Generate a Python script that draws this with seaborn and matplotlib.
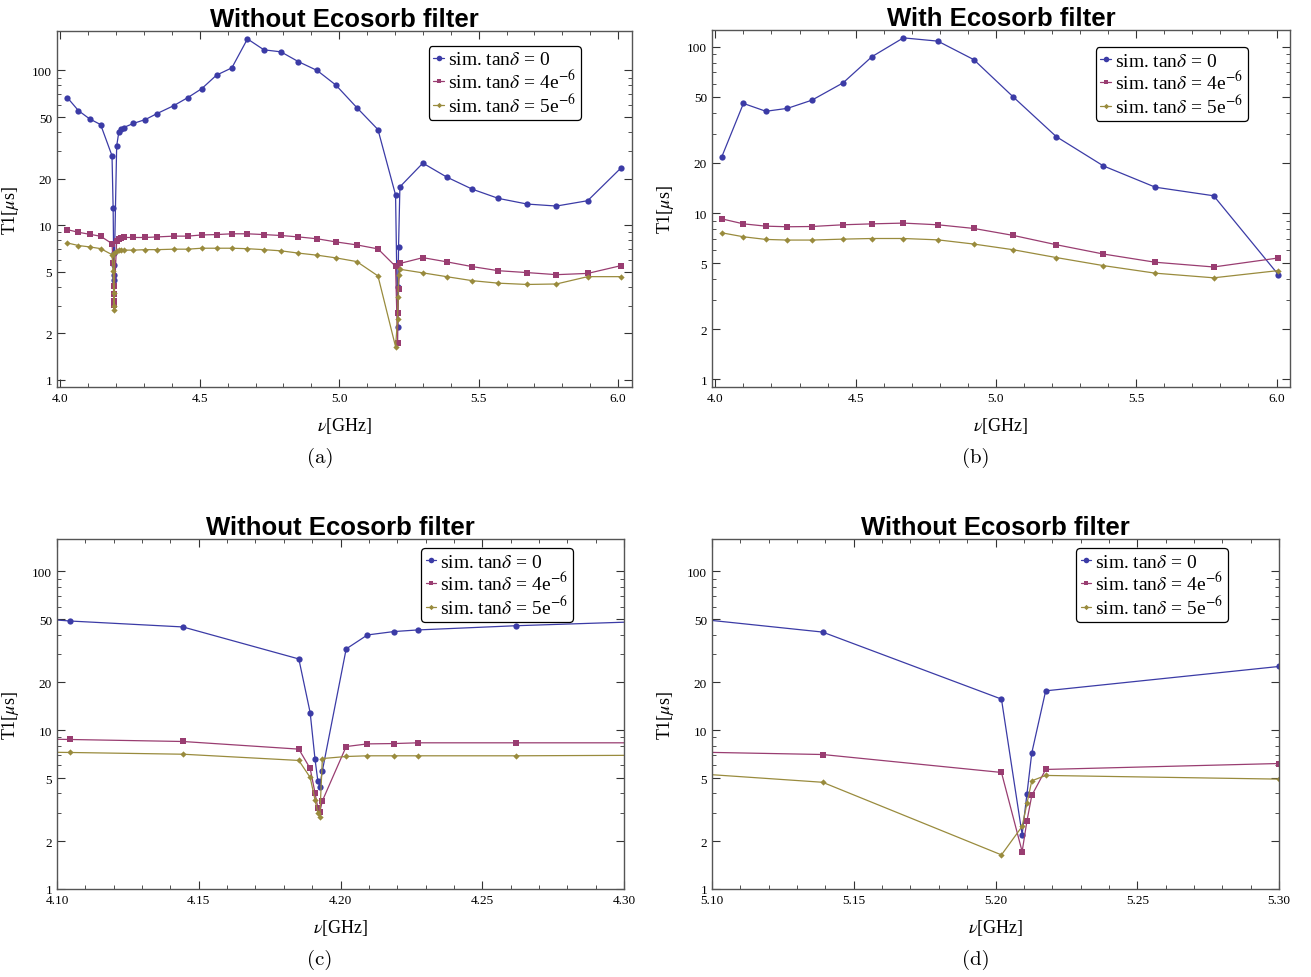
import numpy as np
import pandas as pd
import matplotlib
matplotlib.use('Agg')
import matplotlib.pyplot as plt
import seaborn as sns
from matplotlib.lines import Line2D
from matplotlib.ticker import (FixedLocator, FixedFormatter, LogLocator,
                               NullFormatter, MultipleLocator, FormatStrFormatter)

# Without Ecosorb filter (panels a, c, d share these points)
freq_no = [4.025, 4.065, 4.1047, 4.1444, 4.1853, 4.1893, 4.191, 4.192, 4.1927, 4.1936,
           4.202, 4.2095, 4.2188, 4.2273, 4.262, 4.305, 4.347, 4.407, 4.457, 4.507,
           4.560, 4.615, 4.671, 4.730, 4.791, 4.854, 4.921, 4.988, 5.063, 5.139,
           5.2021, 5.2094, 5.2111, 5.2128, 5.2177, 5.300, 5.385, 5.477, 5.571, 5.674,
           5.779, 5.891, 6.009]
t1_no_0 = [66.8, 55.0, 48.7, 44.7, 28.1, 12.9, 6.6, 4.8, 4.42, 5.55,
           32.5, 39.8, 41.8, 42.8, 45.5, 48.2, 52.7, 59.3, 66.8, 76.3,
           93.3, 104.0, 160.0, 136.0, 132.0, 114.0, 100.0, 80.5, 57.6, 41.5,
           15.7, 2.2, 3.98, 7.2, 17.7, 25.2, 20.5, 17.1, 14.9, 13.7,
           13.3, 14.4, 23.3]
t1_no_4 = [9.36, 9.0, 8.74, 8.49, 7.6, 5.74, 4.04, 3.25, 3.06, 3.59,
           7.89, 8.2, 8.24, 8.33, 8.33, 8.33, 8.4, 8.5, 8.5, 8.65,
           8.7, 8.8, 8.8, 8.7, 8.58, 8.4, 8.17, 7.8, 7.46, 7.03,
           5.42, 1.72, 2.69, 3.88, 5.66, 6.17, 5.8, 5.4, 5.08, 4.94,
           4.79, 4.88, 5.47]
t1_no_5 = [7.68, 7.39, 7.24, 7.06, 6.45, 5.04, 3.65, 3.02, 2.85, 6.63,
           6.83, 6.9, 6.9, 6.9, 6.9, 6.95, 6.95, 7.0, 7.0, 7.1,
           7.1, 7.1, 7.05, 6.95, 6.83, 6.6, 6.4, 6.15, 5.82, 4.7,
           1.64, 2.48, 3.46, 4.8, 5.19, 4.92, 4.65, 4.38, 4.22, 4.14,
           4.17, 4.65, 4.65]

# With Ecosorb filter (panel b)
freq_eco = [4.022, 4.100, 4.180, 4.257, 4.344, 4.455, 4.558, 4.670, 4.793, 4.921,
            5.061, 5.215, 5.383, 5.568, 5.776, 6.007]
t1_eco_0 = [21.6, 45.6, 40.9, 42.6, 47.7, 60.6, 87.1, 113.0, 108.0, 83.6,
            50.0, 28.8, 19.2, 14.3, 12.7, 4.25]
t1_eco_4 = [9.23, 8.61, 8.34, 8.27, 8.3, 8.5, 8.61, 8.7, 8.5, 8.08,
            7.34, 6.45, 5.67, 5.06, 4.74, 5.37]
t1_eco_5 = [7.61, 7.2, 6.94, 6.88, 6.88, 6.97, 7.03, 7.03, 6.9, 6.51,
            6.02, 5.4, 4.83, 4.35, 4.08, 4.51]

series_labels = [r'sim. tan$\delta$ = 0', r'sim. tan$\delta$ = 4e$^{-6}$',
                 r'sim. tan$\delta$ = 5e$^{-6}$']
panel_titles = ['Without Ecosorb filter', 'With Ecosorb filter',
                'Without Ecosorb filter', 'Without Ecosorb filter']
panel_tags = ['(a)', '(b)', '(c)', '(d)']
y_ticks = [1, 2, 5, 10, 20, 50, 100]

colors = ['#3b3ba6', '#993d71', '#998b3d']
markers = ['o', 's', 'D']
marker_sizes = [4.5, 4.0, 3.2]


def long_df(freq, a, b, c):
    n = len(freq)
    return pd.DataFrame({
        'freq': freq * 3,
        'T1': a + b + c,
        'series': [series_labels[0]] * n + [series_labels[1]] * n + [series_labels[2]] * n,
    })


df_no = long_df(freq_no, t1_no_0, t1_no_4, t1_no_5)
df_eco = long_df(freq_eco, t1_eco_0, t1_eco_4, t1_eco_5)

sns.set_style('ticks')
plt.rcParams['font.family'] = ['Liberation Serif', 'DejaVu Serif']
plt.rcParams['mathtext.fontset'] = 'stix'
plt.rcParams['text.color'] = 'black'
plt.rcParams['axes.labelcolor'] = 'black'
plt.rcParams['xtick.color'] = 'black'
plt.rcParams['ytick.color'] = 'black'

fig = plt.figure(figsize=(13.11, 9.78), dpi=100)
W, H = 1311, 978


def px_axes(x0, x1, y0, y1):
    return fig.add_axes([x0 / W, 1 - y1 / H, (x1 - x0) / W, (y1 - y0) / H])


panels = [
    # axes box px, data, xlim, ylim, major, minor, fmt, legend anchor, tag pos
    ((57, 632, 32, 388), df_no, (3.988, 6.05), (0.9, 180), 0.5, 0.1, '%.1f', (0.911, 0.958), (320, 458)),
    ((712, 1290, 31, 388), df_eco, (3.988, 6.048), (0.9, 126), 0.5, 0.1, '%.1f', (0.927, 0.952), (976, 458)),
    ((57, 624, 540, 890), df_no, (4.10, 4.30), (1.0, 160), 0.05, 0.01, '%.2f', (0.910, 0.974), (320, 960)),
    ((712, 1279, 540, 890), df_no, (5.10, 5.30), (1.0, 160), 0.05, 0.01, '%.2f', (0.910, 0.974), (976, 960)),
]

for i, (box, df, xlim, ylim, major, minor, fmt, anchor, tagpos) in enumerate(panels):
    ax = px_axes(*box)
    for j, lab in enumerate(series_labels):
        sub = df[df['series'] == lab]
        sns.lineplot(data=sub, x='freq', y='T1', color=colors[j], marker=markers[j],
                     markersize=marker_sizes[j], markeredgewidth=0, linewidth=0.9,
                     estimator=None, sort=False, ax=ax, legend=False)
    ax.set_yscale('log')
    ax.set_xlim(*xlim)
    ax.set_ylim(*ylim)
    ax.yaxis.set_major_locator(FixedLocator(y_ticks))
    ax.yaxis.set_major_formatter(FixedFormatter([str(t) for t in y_ticks]))
    ax.yaxis.set_minor_locator(LogLocator(base=10, subs=np.arange(1, 10)))
    ax.yaxis.set_minor_formatter(NullFormatter())
    ax.xaxis.set_major_locator(MultipleLocator(major))
    ax.xaxis.set_minor_locator(MultipleLocator(minor))
    ax.xaxis.set_major_formatter(FormatStrFormatter(fmt))
    ax.tick_params(which='both', direction='in', top=True, right=True,
                   labelsize=9.5, colors='#333333', labelcolor='black')
    ax.tick_params(which='major', length=6, width=0.8)
    ax.tick_params(which='minor', length=3, width=0.6)
    for s in ax.spines.values():
        s.set_color('#555555')
        s.set_linewidth(1.0)
    ax.set_xlabel(r'$\nu$[GHz]', fontsize=13, labelpad=8)
    ax.set_ylabel(r'T1[$\mu$s]', fontsize=13, labelpad=8)
    ax.set_title(panel_titles[i], fontsize=18.5, fontweight='bold', color='black',
                 family=['Liberation Sans Narrow', 'Liberation Sans', 'DejaVu Sans'], pad=3)

    handles = [Line2D([], [], color=colors[j], marker=markers[j], markersize=marker_sizes[j] - 0.5,
                      markeredgewidth=0, linewidth=0.9) for j in range(3)]
    leg = ax.legend(handles, series_labels, loc='upper right', bbox_to_anchor=anchor,
                    borderaxespad=0, fontsize=14, frameon=True, fancybox=True,
                    edgecolor='black', framealpha=1, handlelength=0.55, handletextpad=0.2,
                    labelspacing=0.05, borderpad=0.25)
    leg.get_frame().set_linewidth(0.9)

    fig.text(tagpos[0] / W, 1 - tagpos[1] / H, panel_tags[i], family='cmr10',
             fontsize=15, ha='center', va='center')

fig.savefig('out.png', dpi=100)
